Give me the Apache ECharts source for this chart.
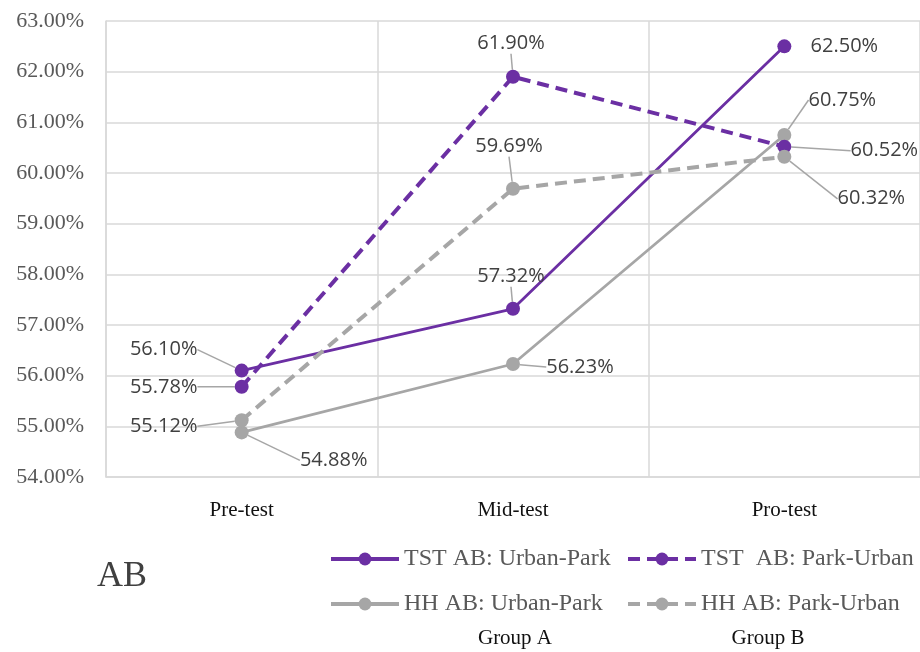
<!DOCTYPE html>
<html>
<head>
<meta charset="utf-8">
<style>
  html, body { margin: 0; padding: 0; background: #ffffff; }
  #chart { width: 920px; height: 652px; }
</style>
<script src="https://cdn.jsdelivr.net/npm/echarts@6/dist/echarts.min.js"></script>
</head>
<body>
<div id="chart"></div>
<script>
// Test phases on the category axis
const phases = ['Pre-test', 'Mid-test', 'Pro-test'];

// Accuracy (%) per group and order
const tstUrbanPark = [56.10, 57.32, 62.50];
const tstParkUrban = [55.78, 61.90, 60.52];
const hhUrbanPark  = [54.88, 56.23, 60.75];
const hhParkUrban  = [55.12, 59.69, 60.32];

// Y-axis range
const yMin = 54, yMax = 63, yStep = 1;

const PURPLE = '#6B2FA3';
const GREY = '#A6A6A6';
const DASH = [12, 7];

// Offsets of each value label from its point (px), per series / per phase
const labelShift = [
  [[-78, -21], [-2, -32], [60, 0]],
  [[-78, 0], [-2, -33], [100, 4]],
  [[92, 28], [67, 3], [58, -35]],
  [[-78, 6], [-4, -42], [87, 42]]
];
// Labels sitting right next to their point need no leader line
const noLeader = { '0-2': true };

function makeSeries(name, values, color, dashed, sIdx) {
  return {
    name: name,
    type: 'line',
    data: values.map((v, i) => noLeader[sIdx + '-' + i]
      ? { value: v, labelLine: { show: false } }
      : v),
    symbol: 'circle',
    symbolSize: 14,
    itemStyle: { color: color },
    lineStyle: { color: color, width: dashed ? 4 : 2.8, type: dashed ? DASH : 'solid' },
    label: {
      show: true,
      position: 'inside',
      formatter: p => p.value.toFixed(2) + '%',
      fontFamily: 'Open Sans',
      fontSize: 20,
      color: '#404040'
    },
    labelLine: {
      show: true,
      lineStyle: { color: GREY, width: 1.5 }
    },
    labelLayout: function (params) {
      const s = labelShift[params.seriesIndex][params.dataIndex];
      return { dx: s[0], dy: s[1] };
    },
    z: dashed ? 3 : 2
  };
}

const chart = echarts.init(document.getElementById('chart'), null, { renderer: 'canvas' });

const legendText = { fontFamily: 'Liberation Serif', fontSize: 24, color: '#595959' };
const legendBase = {
  orient: 'vertical',
  top: 547,
  padding: 0,
  itemWidth: 68,
  itemHeight: 16,
  itemGap: 21,
  textStyle: legendText,
  lineStyle: { width: 4 }
};

chart.setOption({
  animation: false,
  backgroundColor: '#ffffff',
  grid: { left: 106, top: 21, width: 816, height: 456 },
  xAxis: {
    type: 'category',
    data: phases,
    boundaryGap: true,
    axisLine: { show: true, lineStyle: { color: '#D9D9D9', width: 1.5 } },
    axisTick: { show: false },
    axisLabel: { fontFamily: 'Liberation Serif', fontSize: 21, color: '#111111', margin: 23 },
    splitLine: { show: true, lineStyle: { color: '#D9D9D9', width: 1.5 } }
  },
  yAxis: {
    type: 'value',
    min: yMin,
    max: yMax,
    interval: yStep,
    axisLine: { show: true, lineStyle: { color: '#D9D9D9', width: 1.5 } },
    axisTick: { show: false },
    axisLabel: {
      fontFamily: 'Liberation Serif',
      fontSize: 22,
      color: '#595959',
      margin: 22,
      formatter: v => v.toFixed(2) + '%'
    },
    splitLine: { show: true, lineStyle: { color: '#D9D9D9', width: 1.5 } }
  },
  legend: [
    Object.assign({}, legendBase, {
      left: 329,
      data: ['TST AB: Urban-Park', 'HH AB: Urban-Park']
    }),
    Object.assign({}, legendBase, {
      left: 626,
      data: ['TST  AB: Park-Urban', 'HH AB: Park-Urban']
    })
  ],
  graphic: [
    {
      type: 'text',
      x: 97,
      y: 577,
      style: { text: 'AB', font: '36px "Liberation Serif"', fill: '#404040', textVerticalAlign: 'middle' }
    },
    {
      type: 'text',
      x: 515,
      y: 638,
      style: { text: 'Group A', font: '21px "Liberation Serif"', fill: '#111111', textAlign: 'center', textVerticalAlign: 'middle' }
    },
    {
      type: 'text',
      x: 768,
      y: 638,
      style: { text: 'Group B', font: '21px "Liberation Serif"', fill: '#111111', textAlign: 'center', textVerticalAlign: 'middle' }
    }
  ],
  series: [
    makeSeries('TST AB: Urban-Park', tstUrbanPark, PURPLE, false, 0),
    makeSeries('TST  AB: Park-Urban', tstParkUrban, PURPLE, true, 1),
    makeSeries('HH AB: Urban-Park', hhUrbanPark, GREY, false, 2),
    makeSeries('HH AB: Park-Urban', hhParkUrban, GREY, true, 3)
  ]
});
</script>
</body>
</html>
